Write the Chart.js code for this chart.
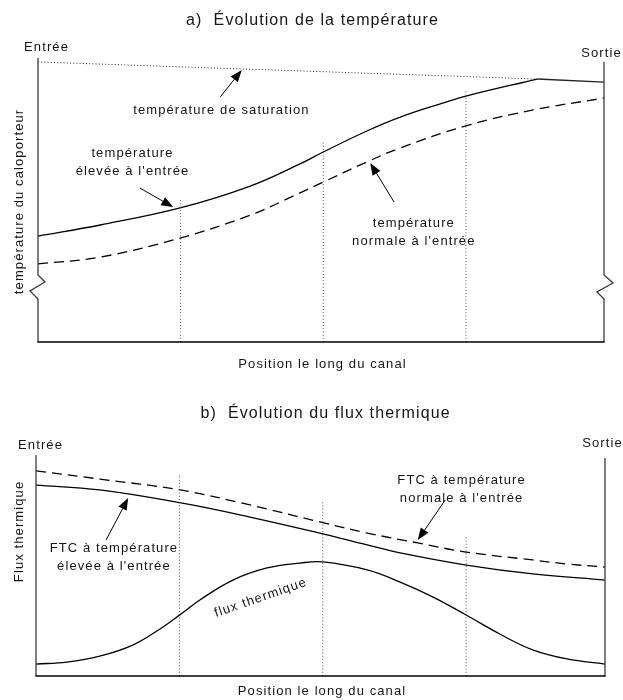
<!DOCTYPE html>
<html>
<head>
<meta charset="utf-8">
<script src="https://cdn.jsdelivr.net/npm/chart.js@4.4.1/dist/chart.umd.min.js"></script>
<style>
  html, body { margin: 0; padding: 0; background: #fff; }
  #wrap { position: relative; width: 623px; height: 700px; }
  canvas { position: absolute; left: 0; }
</style>
</head>
<body>
<div id="wrap">
  <canvas id="panelA" width="623" height="380" style="top:0"></canvas>
  <canvas id="panelB" width="623" height="320" style="top:380px"></canvas>
</div>
<script>
// Position along the channel: 0 = inlet (Entrée), 100 = outlet (Sortie)

// a) coolant temperature
const posHighInlet   = [0, 11.0, 25.1, 37.5, 46.3, 50.4, 58.1, 64.0, 71.6, 75.6, 88.2];
const tempHighInlet  = [37.3, 41.2, 47.2, 54.9, 62.7, 66.9, 74.3, 79.2, 84.2, 86.6, 92.6];
const posNormalInlet = [0, 11.0, 25.1, 37.5, 46.3, 50.4, 58.1, 64.0, 75.6, 87.5, 100];
const tempNormalInlet = [27.5, 29.9, 36.6, 44.7, 52.5, 56.3, 63.4, 68.3, 76.1, 81.7, 85.9];
const posSaturation  = [0, 88.2, 100];
const tempSaturation = [98.6, 92.6, 91.5];

// b) heat flux and critical heat flux (FTC)
const posChfNormal = [0, 11.2, 25.3, 37.6, 49.9, 58.2, 67.1, 75.6, 87.3, 93.3, 100];
const chfNormal    = [92.8, 89.1, 84.2, 77.4, 69.7, 64.7, 60.2, 56.1, 52.5, 50.7, 49.3];
const posChfHigh   = [0, 11.2, 25.5, 37.6, 50.4, 58.2, 64.0, 75.6, 87.3, 100];
const chfHigh      = [86.4, 84.2, 78.3, 71.9, 64.3, 59.3, 55.7, 50.2, 46.2, 43.4];
const posFlux  = [0, 5.4, 11.2, 17.0, 21.8, 25.5, 28.8, 34.6, 40.6, 46.4, 50.4, 58.2, 64.0, 69.8, 75.6, 81.5, 87.3, 93.3, 100];
const heatFlux = [5.4, 6.3, 9.0, 14.0, 21.3, 28.1, 34.4, 43.4, 48.9, 51.1, 51.6, 48.0, 42.5, 35.7, 27.6, 19.0, 11.8, 7.7, 5.4];

// reference stations (dotted verticals) and the height they reach in each panel
const stations    = [25.2, 50.4, 75.6];
const stationTopA = [50.7, 70.4, 88.4];
const stationTopB = [91.4, 79.6, 62.9];

const FONT = '"Liberation Sans", Arial, Helvetica, sans-serif';
const SPACING = 1.1;

const pts = (xs, ys) => xs.map((x, i) => ({ x, y: ys[i] }));

function stationSets(tops) {
  return stations.map((s, i) => ({
    data: [{ x: s, y: 0 }, { x: s, y: tops[i] }],
    borderColor: '#555', borderWidth: 1, borderDash: [1, 2.2], tension: 0
  }));
}

function label(ctx, s, x, y, size, rot) {
  ctx.save();
  ctx.translate(x, y);
  if (rot) ctx.rotate(rot);
  ctx.font = size + 'px ' + FONT;
  ctx.letterSpacing = SPACING + 'px';
  ctx.fillStyle = '#151515';
  ctx.textAlign = 'left';
  ctx.textBaseline = 'middle';
  const w = ctx.measureText(s).width - SPACING;
  ctx.fillText(s, -w / 2, 0);
  ctx.restore();
}

function arrow(ctx, x0, y0, x1, y1) {
  const ang = Math.atan2(y1 - y0, x1 - x0);
  const L = 12, W = 4.6;
  const bx = x1 - L * Math.cos(ang), by = y1 - L * Math.sin(ang);
  ctx.beginPath(); ctx.moveTo(x0, y0); ctx.lineTo(bx, by); ctx.stroke();
  ctx.beginPath();
  ctx.moveTo(x1, y1);
  ctx.lineTo(bx + W * Math.sin(ang), by - W * Math.cos(ang));
  ctx.lineTo(bx - W * Math.sin(ang), by + W * Math.cos(ang));
  ctx.closePath(); ctx.fill();
}

// side axis, optionally interrupted by a zigzag break
function sideAxis(ctx, x, yTop, yBottom, yBreak, zig) {
  ctx.beginPath();
  ctx.moveTo(x, yTop);
  if (yBreak != null) {
    zig.forEach(([dx, dy]) => ctx.lineTo(x + dx, yBreak + dy));
  }
  ctx.lineTo(x, yBottom);
  ctx.stroke();
}

const framePlugin = {
  id: 'frame',
  afterDatasetsDraw(chart, args, o) {
    const { ctx, chartArea: a, scales: { x, y } } = chart;
    ctx.save();
    ctx.lineJoin = 'miter';
    // side axes
    ctx.strokeStyle = '#3a3a3a'; ctx.lineWidth = 1.3;
    const yBreak = o.breakAt != null ? y.getPixelForValue(o.breakAt) : null;
    sideAxis(ctx, a.left, a.top, a.bottom, yBreak, [[0, 0], [7, 7], [-8, 16], [0, 24]]);
    sideAxis(ctx, a.right, y.getPixelForValue(o.rightTop), a.bottom, yBreak, [[0, 0], [9, 8], [-7, 17], [0, 24]]);
    // bottom axis
    ctx.strokeStyle = '#000';
    ctx.beginPath(); ctx.moveTo(a.left - 0.6, a.bottom); ctx.lineTo(a.right + 0.6, a.bottom); ctx.stroke();

    // titles
    label(ctx, o.title, o.titlePos[0], o.titlePos[1], 16);
    label(ctx, 'Entrée', o.inletPos[0], o.inletPos[1], 13);
    label(ctx, 'Sortie', o.outletPos[0], o.outletPos[1], 13);
    label(ctx, 'Position le long du canal', (a.left + a.right) / 2 + 1, o.xTitleY, 13);
    label(ctx, o.yTitle, o.yTitlePos[0], o.yTitlePos[1], 13, -Math.PI / 2);

    // annotations with arrows
    o.notes.forEach(n => {
      const tx = x.getPixelForValue(n.at[0]), ty = y.getPixelForValue(n.at[1]);
      n.lines.forEach((s, i) => label(ctx, s, tx, ty + i * 18.5, 13, n.rot ? n.rot * Math.PI / 180 : 0));
      if (n.tail) {
        ctx.strokeStyle = '#000'; ctx.fillStyle = '#000'; ctx.lineWidth = 1;
        arrow(ctx, x.getPixelForValue(n.tail[0]), y.getPixelForValue(n.tail[1]),
                   x.getPixelForValue(n.tip[0]), y.getPixelForValue(n.tip[1]));
      }
    });
    ctx.restore();
  }
};

function makeChart(id, datasets, frame, padding) {
  return new Chart(document.getElementById(id), {
    type: 'line',
    data: { datasets },
    options: {
      responsive: false,
      animation: false,
      events: [],
      layout: { padding },
      scales: {
        x: { type: 'linear', min: 0, max: 100, display: false },
        y: { type: 'linear', min: 0, max: 100, display: false }
      },
      elements: {
        point: { radius: 0 },
        line: { borderWidth: 1.3, borderColor: '#000', fill: false, tension: 0.4 }
      },
      plugins: { legend: { display: false }, tooltip: { enabled: false }, frame }
    },
    plugins: [framePlugin]
  });
}

// a) Évolution de la température
makeChart('panelA', [
  ...stationSets(stationTopA),
  {
    data: pts(posSaturation, tempSaturation),
    tension: 0,
    borderColor: '#222',
    segment: {
      borderDash: c => c.p0DataIndex === 0 ? [1, 2.2] : undefined,
      borderWidth: c => c.p0DataIndex === 0 ? 1 : 1.3
    }
  },
  { data: pts(posHighInlet, tempHighInlet) },
  { data: pts(posNormalInlet, tempNormalInlet), borderDash: [10, 6] }
], {
  title: 'a)  Évolution de la température', titlePos: [312, 21],
  inletPos: [46, 47], outletPos: [601, 53],
  xTitleY: 364,
  yTitle: 'température du caloporteur', yTitlePos: [19, 202],
  rightTop: 98.6, breakAt: 23.6,
  notes: [
    { lines: ['température de saturation'], at: [32.3, 81.7], tail: [32.2, 86.3], tip: [36.0, 95.8] },
    { lines: ['température', 'élevée à l\'entrée'], at: [16.6, 66.5], tail: [18.0, 54.2], tip: [23.9, 47.5] },
    { lines: ['température', 'normale à l\'entrée'], at: [66.3, 41.9], tail: [62.9, 49.3], tip: [58.7, 63.0] }
  ]
}, { left: 38, right: 19, top: 58, bottom: 38 });

// b) Évolution du flux thermique
makeChart('panelB', [
  ...stationSets(stationTopB),
  { data: pts(posChfNormal, chfNormal), borderDash: [10, 6] },
  { data: pts(posChfHigh, chfHigh) },
  { data: pts(posFlux, heatFlux) }
], {
  title: 'b)  Évolution du flux thermique', titlePos: [325, 34],
  inletPos: [40, 65], outletPos: [602, 63],
  xTitleY: 311,
  yTitle: 'Flux thermique', yTitlePos: [19, 152],
  rightTop: 98.6, breakAt: null,
  notes: [
    { lines: ['FTC à température', 'élevée à l\'entrée'], at: [13.6, 57.9], tail: [12.3, 61.5], tip: [16.2, 80.5] },
    { lines: ['FTC à température', 'normale à l\'entrée'], at: [74.7, 88.7], tail: [71.9, 79.6], tip: [67.1, 61.5] },
    { lines: ['flux thermique'], at: [39.4, 35.3], rot: -19 }
  ]
}, { left: 36, right: 18, top: 75, bottom: 24 });
</script>
</body>
</html>
